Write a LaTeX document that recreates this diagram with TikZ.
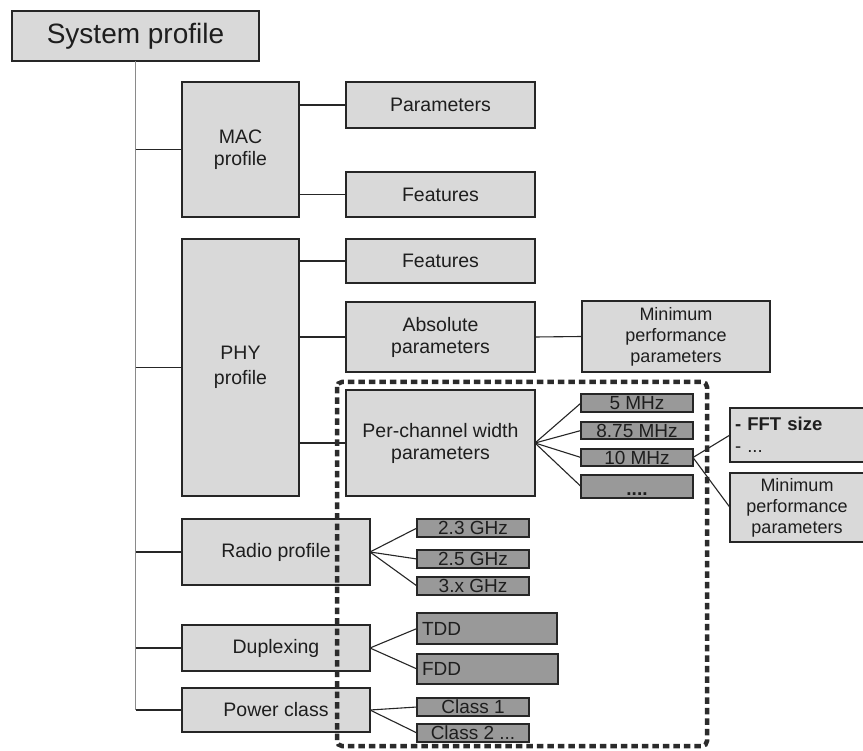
\documentclass[tikz,border=0pt]{standalone}
\usepackage{fontspec}
\setmainfont{Liberation Sans}
\definecolor{boxlight}{HTML}{D9D9D9}
\definecolor{boxdark}{HTML}{999999}
\definecolor{textc}{HTML}{1E1E1E}
\definecolor{dashc}{HTML}{2B2B2B}
\definecolor{trunkc}{HTML}{8A8A8A}
\begin{document}
\begin{tikzpicture}[x=1pt,y=-1pt,
  lbox/.style={draw=black!85, line width=1.3pt, fill=boxlight, inner sep=0pt,
    outer sep=0pt, align=center, text=textc, font=\fontsize{19.5}{22}\selectfont},
  dbox/.style={draw=black!85, line width=1.3pt, fill=boxdark, inner sep=0pt,
    outer sep=0pt, text=textc, font=\fontsize{19}{20}\selectfont,
    text height=13.4pt, text depth=0pt, minimum width=112pt, minimum height=18pt},
  wbox/.style={dbox, text height=, text depth=, align=left, inner xsep=5pt,
    text width=#1, minimum height=30pt},
  link/.style={draw=black!85, line width=1.1pt},
  trunk/.style={draw=trunkc, line width=1.6pt},
  group/.style={draw=dashc, line width=4.5pt, dash pattern=on 6.5pt off 4pt,
    rounded corners=5pt}
]
\clip (0,0) rectangle (863,751);
\fill[white] (0,0) rectangle (863,751);

% root
\node[lbox, font=\fontsize{28}{30}\selectfont, minimum width=247pt, minimum height=50pt]
  (sys) at (135.5,36) {System profile};

% MAC branch
\node[lbox, minimum width=117pt, minimum height=135pt] (mac) at (240.5,149.5) {MAC\\profile};
\node[lbox, minimum width=189pt, minimum height=46pt] (par) at (440.5,105) {Parameters};
\node[lbox, minimum width=189pt, minimum height=45pt] (macfeat) at (440.5,194.5) {Features};

% PHY branch
\node[lbox, minimum width=117pt, minimum height=257pt, font=\fontsize{19.5}{25}\selectfont]
  (phy) at (240.5,367.5) {PHY\\profile};
\node[lbox, minimum width=189pt, minimum height=44pt] (phyfeat) at (440.5,261) {Features};
\node[lbox, minimum width=189pt, minimum height=70pt] (abs) at (440.5,337) {Absolute\\parameters};
\node[lbox, minimum width=188pt, minimum height=71pt, font=\fontsize{18}{21}\selectfont]
  (minp1) at (676,336.5) {Minimum\\performance\\parameters};
\node[lbox, minimum width=189pt, minimum height=106pt] (perch) at (440.5,443)
  {Per-channel width\\parameters};

% channel widths
\node[dbox] (m5) at (637,403) {5 MHz};
\node[dbox, minimum height=17pt] (m875) at (637,430.5) {8.75 MHz};
\node[dbox, minimum height=17pt] (m10) at (637,457.5) {10 MHz};
\node[dbox, minimum height=23pt, text height=18pt, font=\fontsize{19}{20}\selectfont\bfseries]
  (mdots) at (637,486.5) {....};

% per-width details
\node[lbox, minimum width=134pt, minimum height=54pt, align=left, text width=124pt,
  inner xsep=5pt, font=\fontsize{18.5}{22}\selectfont] (fft) at (797,435)
  {\textbf{- FFT size}\\- ...};
\node[lbox, minimum width=134pt, minimum height=69pt, font=\fontsize{18}{21}\selectfont]
  (minp2) at (797,507.5) {Minimum\\performance\\parameters};

% radio profile
\node[lbox, minimum width=188pt, minimum height=66pt] (radio) at (276,552) {Radio profile};
\node[dbox] (g23) at (473,528) {2.3 GHz};
\node[dbox] (g25) at (473,559) {2.5 GHz};
\node[dbox] (g3x) at (473,586) {3.x GHz};

% duplexing
\node[lbox, minimum width=188pt, minimum height=46pt] (dup) at (276,648) {Duplexing};
\node[wbox=130pt, minimum height=31pt] (tdd) at (487,628.5) {TDD};
\node[wbox=131pt] (fdd) at (487.5,669) {FDD};

% power class
\node[lbox, minimum width=188pt, minimum height=44pt] (pow) at (276,710) {Power class};
\node[dbox] (c1) at (473,707) {Class 1};
\node[dbox] (c2) at (473,733) {Class 2 ...};

% trunk and its branches
\coordinate (tend) at (sys.south |- pow.west);
\draw[trunk] (sys.south) -- (tend);
\draw[link] (sys.south |- mac.west) -- (mac.west);
\draw[link] (sys.south |- phy.west) -- (phy.west);
\draw[link] (sys.south |- radio.west) -- (radio.west);
\draw[link] (sys.south |- dup.west) -- (dup.west);
\draw[link] (tend) -- (pow.west);

% MAC children
\draw[link] (mac.east |- par.west) -- (par.west);
\draw[link] (mac.east |- macfeat.west) -- (macfeat.west);

% PHY children
\draw[link] (phy.east |- phyfeat.west) -- (phyfeat.west);
\draw[link] (phy.east |- abs.west) -- (abs.west);
\draw[link] (phy.east |- perch.west) -- (perch.west);
\draw[link] (abs.east) -- (minp1.west);

% fans
\foreach \t in {m5,m875,m10,mdots} \draw[link] (perch.east) -- (\t.west);
\foreach \t in {fft,minp2} \draw[link] (m10.east) -- (\t.west);
\foreach \t in {g23,g25,g3x} \draw[link] (radio.east) -- (\t.west);
\foreach \t in {tdd,fdd} \draw[link] (dup.east) -- (\t.west);
\foreach \t in {c1,c2} \draw[link] (pow.east) -- (\t.west);

% grouping outline
\draw[group] (337,382) rectangle (707,746);
\end{tikzpicture}
\end{document}
